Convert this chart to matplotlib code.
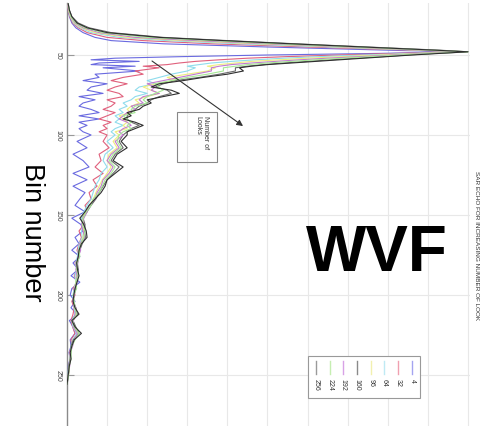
import matplotlib
matplotlib.use("Agg")
import matplotlib.pyplot as plt
from matplotlib.lines import Line2D
from matplotlib.patches import Rectangle

# ---------------- data ----------------
bins = ([18, 22, 26, 30, 33, 36, 39, 41, 43, 45, 47, 48]
        + [49, 50, 51, 52, 53, 54, 55, 56, 57, 58]
        + list(range(60, 101, 2))
        + list(range(104, 257, 4)))

looks = [4, 32, 64, 96, 160, 192, 224, 256]

s256 = ([0.03, 0.06, 0.12, 0.25, 0.50, 1.00, 2.30, 3.90, 5.60, 7.40, 9.20, 10.0]
        + [9.3, 8.6, 8.0, 7.4, 6.8, 6.2, 5.6, 5.0, 4.6, 4.3]
        + [4.4, 4.0, 3.4, 2.9, 2.3, 2.1, 2.6, 2.8, 2.4, 2.0, 2.1, 1.9, 1.8, 1.5, 1.6, 1.4, 1.7, 1.9, 1.7, 1.5, 1.5]
        + [1.35, 1.5, 1.25, 1.15, 1.4, 1.2, 1.0, 0.95, 0.85, 0.7, 0.55, 0.45, 0.32, 0.42, 0.48, 0.5, 0.36, 0.3, 0.28, 0.24,
           0.26, 0.3, 0.25, 0.2, 0.17, 0.15, 0.2, 0.3, 0.12, 0.2, 0.36, 0.18, 0.12, 0.08, 0.1, 0.06, 0.04, 0.02, 0.0])
s224 = ([0.03, 0.05, 0.10, 0.22, 0.45, 0.90, 2.00, 3.60, 5.30, 7.20, 9.10, 10.0]
        + [9.1, 8.3, 7.6, 6.9, 6.2, 5.6, 5.0, 4.5, 4.2, 3.9]
        + [3.9, 3.5, 3.0, 2.6, 2.2, 2.3, 2.4, 2.2, 2.0, 1.9, 2.0, 1.7, 1.6, 1.7, 1.4, 1.5, 1.6, 1.5, 1.6, 1.4, 1.3]
        + [1.25, 1.35, 1.15, 1.05, 1.2, 1.1, 0.95, 0.88, 0.8, 0.65, 0.6, 0.48, 0.4, 0.38, 0.45, 0.42, 0.35, 0.3, 0.32, 0.25,
           0.24, 0.28, 0.22, 0.24, 0.16, 0.18, 0.2, 0.24, 0.14, 0.18, 0.3, 0.2, 0.12, 0.1, 0.1, 0.06, 0.05, 0.03, 0.0])
s192 = ([0.02, 0.05, 0.10, 0.20, 0.40, 0.80, 1.70, 3.20, 5.00, 7.00, 9.00, 9.9]
        + [9.0, 8.1, 7.3, 6.5, 5.8, 5.2, 4.6, 4.1, 3.8, 3.6]
        + [3.6, 3.2, 2.8, 2.4, 2.0, 2.2, 2.1, 2.3, 1.9, 1.8, 1.9, 1.6, 1.7, 1.5, 1.4, 1.3, 1.5, 1.6, 1.4, 1.3, 1.4]
        + [1.2, 1.3, 1.1, 1.0, 1.15, 1.05, 0.9, 0.85, 0.75, 0.7, 0.55, 0.5, 0.42, 0.36, 0.4, 0.44, 0.32, 0.34, 0.28, 0.27,
           0.22, 0.25, 0.24, 0.2, 0.18, 0.14, 0.22, 0.2, 0.16, 0.16, 0.26, 0.18, 0.14, 0.08, 0.09, 0.07, 0.04, 0.03, 0.0])
s160 = ([0.03, 0.06, 0.12, 0.28, 0.55, 1.10, 2.40, 4.00, 5.70, 7.50, 9.30, 10.0]
        + [9.2, 8.5, 7.9, 7.2, 6.6, 6.0, 5.4, 4.9, 4.5, 4.2]
        + [4.2, 3.8, 3.3, 2.7, 2.4, 2.2, 2.5, 2.6, 2.3, 2.1, 2.0, 1.8, 1.7, 1.6, 1.5, 1.5, 1.6, 1.8, 1.6, 1.5, 1.4]
        + [1.3, 1.4, 1.2, 1.1, 1.3, 1.15, 1.0, 0.9, 0.8, 0.72, 0.6, 0.5, 0.4, 0.45, 0.44, 0.46, 0.38, 0.32, 0.3, 0.26,
           0.28, 0.27, 0.24, 0.22, 0.18, 0.16, 0.22, 0.26, 0.15, 0.22, 0.3, 0.16, 0.1, 0.1, 0.08, 0.05, 0.04, 0.02, 0.0])
s96 = ([0.02, 0.04, 0.09, 0.18, 0.36, 0.70, 1.50, 2.90, 4.70, 6.80, 8.90, 9.9]
       + [8.8, 7.8, 6.9, 6.0, 5.3, 4.6, 4.2, 3.8, 3.5, 3.7]
       + [3.5, 3.0, 2.5, 2.7, 2.2, 1.9, 2.1, 2.3, 2.0, 1.7, 1.8, 1.6, 1.5, 1.6, 1.3, 1.4, 1.5, 1.4, 1.5, 1.2, 1.3]
       + [1.15, 1.25, 1.05, 1.0, 1.1, 1.0, 0.88, 0.8, 0.72, 0.66, 0.56, 0.46, 0.4, 0.38, 0.42, 0.4, 0.34, 0.3, 0.3, 0.24,
          0.25, 0.24, 0.22, 0.2, 0.17, 0.15, 0.2, 0.22, 0.14, 0.17, 0.28, 0.16, 0.12, 0.09, 0.08, 0.06, 0.04, 0.02, 0.0])
s64 = ([0.02, 0.04, 0.08, 0.16, 0.32, 0.60, 1.30, 2.50, 4.30, 6.50, 8.80, 9.8]
       + [8.6, 7.4, 6.3, 5.4, 4.7, 4.1, 3.6, 3.3, 3.0, 3.2]
       + [3.0, 2.6, 2.3, 2.0, 2.2, 1.8, 1.7, 2.0, 1.7, 1.6, 1.4, 1.5, 1.3, 1.4, 1.2, 1.3, 1.2, 1.4, 1.2, 1.1, 1.2]
       + [1.0, 1.15, 0.95, 0.9, 1.0, 0.85, 0.8, 0.7, 0.65, 0.6, 0.5, 0.42, 0.36, 0.4, 0.36, 0.38, 0.3, 0.28, 0.26, 0.22,
          0.24, 0.2, 0.22, 0.18, 0.15, 0.16, 0.18, 0.2, 0.12, 0.15, 0.24, 0.14, 0.1, 0.08, 0.07, 0.05, 0.03, 0.02, 0.0])
s32 = ([0.02, 0.03, 0.07, 0.14, 0.28, 0.50, 1.00, 1.90, 3.60, 6.00, 8.60, 9.8]
       + [8.2, 6.8, 5.5, 4.5, 3.8, 3.2, 2.8, 2.5, 1.9, 2.3]
       + [1.7, 1.9, 1.4, 1.1, 1.5, 1.2, 1.0, 1.3, 1.4, 1.0, 1.2, 1.1, 0.9, 1.2, 1.0, 0.8, 1.1, 0.9, 1.0, 0.8, 1.0]
       + [0.9, 1.05, 0.8, 0.85, 0.7, 0.9, 0.65, 0.75, 0.55, 0.6, 0.45, 0.5, 0.35, 0.42, 0.3, 0.36, 0.3, 0.25, 0.3, 0.2,
          0.26, 0.18, 0.24, 0.15, 0.2, 0.12, 0.18, 0.15, 0.1, 0.14, 0.2, 0.1, 0.12, 0.06, 0.08, 0.04, 0.05, 0.02, 0.0])
s4 = ([0.01, 0.03, 0.06, 0.12, 0.22, 0.40, 0.70, 1.10, 2.40, 5.00, 8.00, 9.7]
      + [7.8, 5.0, 2.9, 1.2, 0.6, 1.8, 0.8, 0.6, 1.7, 0.9]
      + [1.8, 0.7, 0.8, 0.4, 1.0, 0.6, 0.5, 0.9, 0.3, 0.7, 0.4, 0.3, 0.6, 0.8, 0.3, 0.8, 0.3, 0.5, 0.3, 0.4, 0.6]
      + [0.25, 0.5, 0.15, 0.4, 0.55, 0.15, 0.5, 0.15, 0.45, 0.32, 0.2, 0.45, 0.12, 0.35, 0.4, 0.2, 0.3, 0.12, 0.32, 0.15,
         0.28, 0.1, 0.32, 0.12, 0.08, 0.2, 0.1, 0.25, 0.06, 0.15, 0.2, 0.08, 0.1, 0.05, 0.08, 0.03, 0.04, 0.02, 0.0])

series = {4: s4, 32: s32, 64: s64, 96: s96, 160: s160, 192: s192, 224: s224, 256: s256}
colors = {4: '#6a6ae0', 32: '#e0607c', 64: '#8fdcec', 96: '#eeee80',
          160: '#6a6a6a', 192: '#c27ad0', 224: '#a6e896', 256: '#2e2e2e'}
legend_colors = {4: '#a4a4f0', 32: '#f0a0b0', 64: '#bfeaf4', 96: '#f2f0b0',
                 160: '#8a8a8a', 192: '#d8a2e6', 224: '#c6eeb2', 256: '#9a9a9a'}
bin_ticks = [50, 100, 150, 200, 250]
title = "SAR ECHO FOR INCREASING NUMBER OF LOOK"

# ---------------- figure ----------------
W, H = 485, 427
fig = plt.figure(figsize=(W / 100, H / 100), dpi=100)
plt.rcParams['font.family'] = ['Liberation Sans', 'DejaVu Sans']


def fx(x):
    return x / W


def fy(y):
    return 1 - y / H


ax = fig.add_axes([fx(67), 0, fx(470) - fx(67), fy(4)])
for k in looks:
    ax.plot(series[k], bins, color=colors[k], lw=0.8, zorder=3)

ax.set_ylim(281.9, 17.5)
ax.set_xlim(0, 10.05)
ax.set_xticks(range(1, 11))
ax.set_xticklabels([])
ax.tick_params(axis='x', length=0)
ax.set_yticks(bin_ticks)
ax.set_yticklabels([str(t) for t in bin_ticks], rotation=-90, fontsize=5,
                   color='#444444', va='center')
ax.tick_params(axis='y', direction='in', length=5, width=0.8, color='#999999', pad=4)
ax.grid(True, color='#e8e8e8', lw=0.8, zorder=0)
for s in ['top', 'right', 'bottom']:
    ax.spines[s].set_visible(False)
ax.spines['left'].set_color('#8a8a8a')
ax.spines['left'].set_linewidth(1.0)

# arrow for "Number of Looks"
ax.annotate('', xy=(4.39, 94.4), xytext=(2.12, 53.75),
            arrowprops=dict(arrowstyle='-|>', color='#333333', lw=0.8,
                            mutation_scale=9, shrinkA=0, shrinkB=0), zorder=5)

# annotation box
fig.patches.append(Rectangle((fx(177), fy(163)), fx(217) - fx(177), fy(113) - fy(163),
                             transform=fig.transFigure, fill=False,
                             edgecolor='#888888', lw=0.8))
fig.text(fx(202), fy(116), "Number of\nLooks", rotation=-90, fontsize=5,
         ha='center', va='top', multialignment='left', color='#333333')

# legend
fig.patches.append(Rectangle((fx(308), fy(399)), fx(420) - fx(308), fy(357) - fy(399),
                             transform=fig.transFigure, facecolor='white',
                             edgecolor='#999999', lw=0.8, zorder=6))
legend_order = [256, 224, 192, 160, 96, 64, 32, 4]
for i, k in enumerate(legend_order):
    xc = 316 + i * 13.7
    fig.lines.append(Line2D([fx(xc), fx(xc)], [fy(362), fy(375)],
                            transform=fig.transFigure, color=legend_colors[k], lw=1.0, zorder=7))
    fig.text(fx(xc), fy(379), str(k), rotation=-90, fontsize=5, ha='center', va='top',
             color='#333333', zorder=7)

# texts
fig.text(fx(477), fy(246), title, rotation=-90, fontsize=4.6, ha='center', va='center',
         color='#333333')
fig.text(fx(32), fy(232), "Bin number", rotation=-90, fontsize=19.5, ha='center', va='center',
         color='black')
fig.text(fx(377), fy(254), "WVF", fontsize=46, fontweight='bold', ha='center', va='center',
         color='black')

fig.savefig('out.png', dpi=100)
